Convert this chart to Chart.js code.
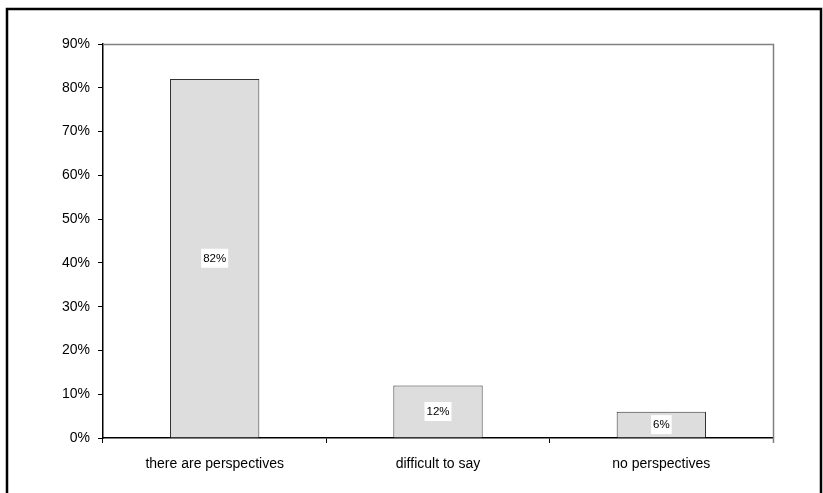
<!DOCTYPE html>
<html>
<head>
<meta charset="utf-8">
<script src="https://cdn.jsdelivr.net/npm/chart.js@4"></script>
<style>
  html, body { margin: 0; padding: 0; background: #fff; }
  #wrap { position: relative; width: 823px; height: 493px; }
</style>
</head>
<body>
<div id="wrap"><canvas id="c" width="823" height="493"></canvas></div>
<script>
// Survey answers and their shares (percent)
const categories = ['there are perspectives', 'difficult to say', 'no perspectives'];
const shares = [82, 12, 6];
const yTicks = [0, 10, 20, 30, 40, 50, 60, 70, 80, 90];

const FONT = '"Liberation Sans", Arial, sans-serif';

// Outer frame around the whole figure and gray top/right edges of the plot box
const framePlugin = {
  id: 'frame',
  beforeDraw(chart) {
    const ctx = chart.ctx;
    ctx.save();
    ctx.fillStyle = '#fff';
    ctx.fillRect(0, 0, chart.width, chart.height);
    ctx.strokeStyle = '#000';
    ctx.lineWidth = 2.5;
    ctx.beginPath();
    ctx.moveTo(7, 500);
    ctx.lineTo(7, 9);
    ctx.lineTo(821, 9);
    ctx.lineTo(821, 500);
    ctx.stroke();
    ctx.restore();
  },
  afterDatasetsDraw(chart) {
    const { ctx, chartArea: a } = chart;
    ctx.save();
    ctx.strokeStyle = '#808080';
    ctx.lineWidth = 1.5;
    ctx.beginPath();
    ctx.moveTo(a.left, a.top + 0.5);
    ctx.lineTo(a.right + 0.5, a.top + 0.5);
    ctx.lineTo(a.right + 0.5, a.bottom + 5);
    ctx.stroke();
    ctx.restore();
  }
};

// Value labels in white boxes, centred inside each bar
const valueLabels = {
  id: 'valueLabels',
  afterDatasetsDraw(chart) {
    const ctx = chart.ctx;
    const meta = chart.getDatasetMeta(0);
    ctx.save();
    ctx.font = '11.5px ' + FONT;
    ctx.textAlign = 'center';
    ctx.textBaseline = 'middle';
    meta.data.forEach((bar, i) => {
      const text = shares[i] + '%';
      const cy = (bar.y + bar.base) / 2;
      const w = ctx.measureText(text).width + 4;
      const h = 19;
      ctx.fillStyle = '#fff';
      ctx.fillRect(bar.x - w / 2, cy - h / 2, w, h);
      ctx.fillStyle = '#000';
      ctx.fillText(text, bar.x, cy + 0.5);
    });
    ctx.restore();
  }
};

new Chart(document.getElementById('c'), {
  type: 'bar',
  data: {
    labels: categories,
    datasets: [{
      data: shares,
      backgroundColor: '#dddddd',
      borderColor: '#333333',
      borderWidth: 1,
      barPercentage: 0.4,
      categoryPercentage: 1.0
    }]
  },
  options: {
    responsive: false,
    animation: false,
    devicePixelRatio: 1,
    layout: { padding: { top: 44, right: 50, left: 0, bottom: 0 } },
    plugins: { legend: { display: false }, tooltip: { enabled: false } },
    scales: {
      x: {
        offset: true,
        afterFit(s) { s.height = 493 - 438; },
        grid: { offset: true, drawOnChartArea: false, tickLength: 5, color: '#000', lineWidth: 1 },
        border: { color: '#000', width: 1.5 },
        ticks: { color: '#000', font: { family: FONT, size: 14 }, padding: 13, maxRotation: 0 }
      },
      y: {
        min: 0,
        max: 90,
        afterFit(s) { s.width = 103; },
        afterBuildTicks(s) { s.ticks = yTicks.map(v => ({ value: v })); },
        grid: { drawOnChartArea: false, tickLength: 5, color: '#000', lineWidth: 1 },
        border: { color: '#000', width: 1.5 },
        ticks: {
          color: '#000',
          font: { family: FONT, size: 14 },
          padding: 8,
          callback: v => v + '%'
        }
      }
    }
  },
  plugins: [framePlugin, valueLabels]
});
</script>
</body>
</html>
